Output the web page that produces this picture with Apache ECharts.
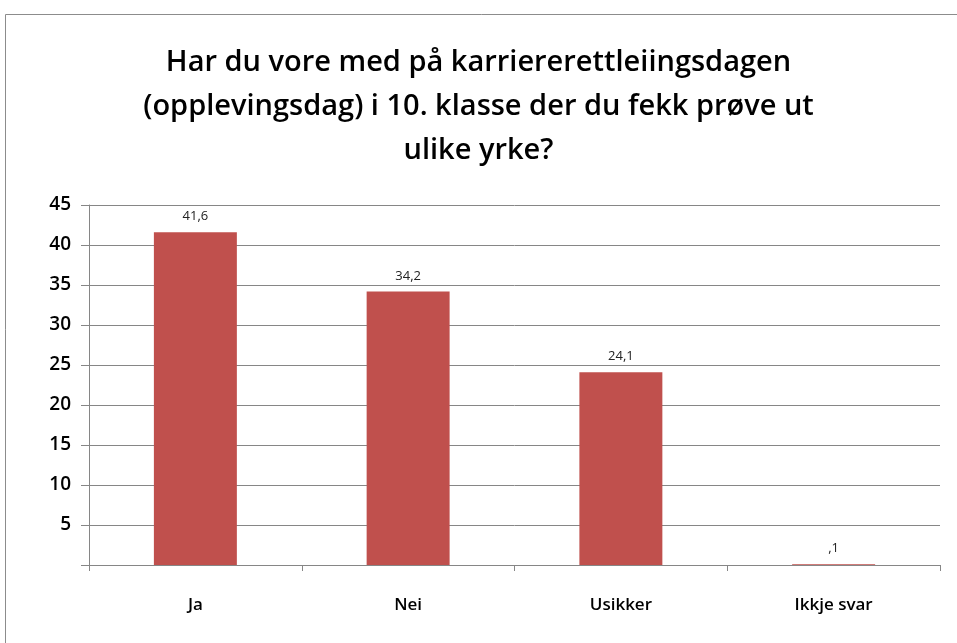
<!DOCTYPE html>
<html>
<head>
<meta charset="utf-8">
<script src="https://cdn.jsdelivr.net/npm/echarts@6/dist/echarts.min.js"></script>
<style>
  html, body { margin: 0; padding: 0; background: #fff; }
  #main { width: 957px; height: 643px; }
</style>
</head>
<body>
<div id="main"></div>
<script>
// svarkategoriar og prosentverdiar
var categories = ['Ja', 'Nei', 'Usikker', 'Ikkje svar'];
var values = [41.6, 34.2, 24.1, 0.1];
var titleText = 'Har du vore med på karriererettleiingsdagen\n(opplevingsdag) i 10. klasse der du fekk prøve ut\nulike yrke?';

var chart = echarts.init(document.getElementById('main'));

var option = {
    animation: false,
    backgroundColor: '#fff',
    graphic: [{
        type: 'rect',
        shape: { x: 5.5, y: 14.5, width: 980, height: 660 },
        style: { fill: 'none', stroke: '#8c8c8c', lineWidth: 1 },
        silent: true
    }],
    title: {
        text: titleText,
        left: 'center',
        top: 36,
        textStyle: {
            fontFamily: 'Open Sans',
            fontSize: 29,
            fontWeight: 600,
            color: '#000',
            lineHeight: 44
        }
    },
    grid: {
        left: 89,
        right: 17,
        top: 205,
        bottom: 78,
        containLabel: false
    },
    xAxis: {
        type: 'category',
        data: categories,
        axisLine: { lineStyle: { color: '#868686', width: 1 } },
        axisTick: { show: true, alignWithLabel: false, length: 6, lineStyle: { color: '#868686' } },
        axisLabel: {
            margin: 32,
            fontFamily: 'Open Sans',
            fontSize: 17,
            fontWeight: 600,
            color: '#000'
        }
    },
    yAxis: {
        type: 'value',
        min: 0,
        max: 45,
        interval: 5,
        axisLine: { show: true, lineStyle: { color: '#868686', width: 1 } },
        axisTick: { show: true, inside: false, length: 8, lineStyle: { color: '#868686' } },
        splitLine: { lineStyle: { color: '#868686', width: 1 } },
        axisLabel: {
            margin: 18,
            fontFamily: 'Open Sans',
            fontSize: 19,
            fontWeight: 600,
            color: '#000',
            formatter: function (v) { return v === 0 ? '' : String(v); }
        }
    },
    series: [{
        type: 'bar',
        data: values,
        barWidth: '39%',
        itemStyle: { color: '#c0504d' },
        label: {
            show: true,
            position: 'top',
            distance: 9,
            fontFamily: 'Open Sans',
            fontSize: 13,
            color: '#222',
            formatter: function (p) {
                var s = p.value.toFixed(1).replace('.', ',');
                return s.indexOf('0,') === 0 ? s.slice(1) : s;
            }
        }
    }]
};

chart.setOption(option);
window.onresize = function () {
    chart.resize();
};
</script>
</body>
</html>
